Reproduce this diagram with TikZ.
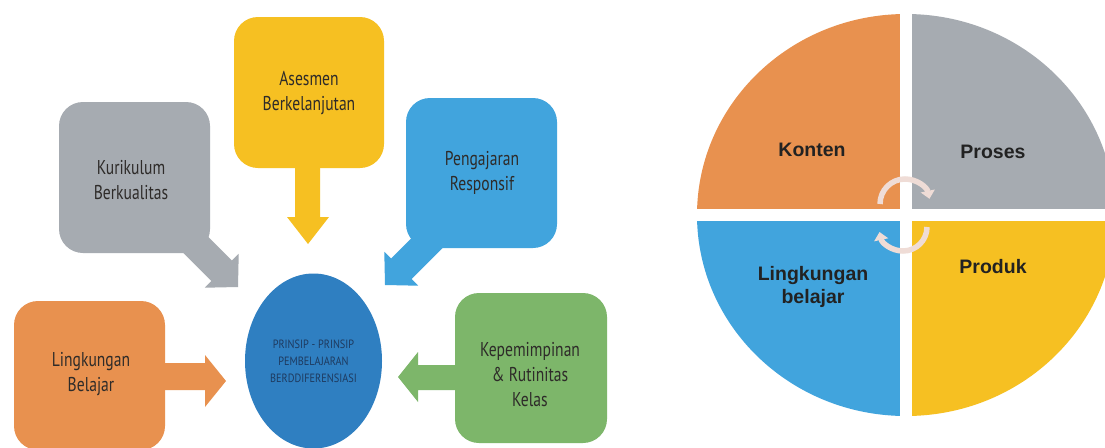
\documentclass[tikz,border=0pt]{standalone}
\usepackage{fontspec}
\setmainfont{Liberation Sans}
\newfontfamily\condfont[FakeStretch=0.78]{PT Sans}
\newfontfamily\condsmall[FakeStretch=0.86]{PT Sans}
\usetikzlibrary{shapes.geometric,arrows.meta}
\definecolor{cOrange}{HTML}{E8914F}
\definecolor{cGray}{HTML}{A6ABB1}
\definecolor{cYellow}{HTML}{F6C022}
\definecolor{cBlue}{HTML}{41A4DD}
\definecolor{cGreen}{HTML}{7DB66A}
\definecolor{cCenter}{HTML}{2F7FC1}
\definecolor{cTxt}{HTML}{2E2B29}
\definecolor{cNavy}{HTML}{1E3A5F}
\definecolor{cCycle}{HTML}{EFDCD6}
\definecolor{cDark}{HTML}{222222}
\tikzset{
  box/.style={rounded corners=24pt, inner sep=0pt},
  btxt/.style={font=\condfont\fontsize{20}{25}\selectfont, text=cTxt, align=center, inner sep=0pt},
  qtxt/.style={font=\bfseries\fontsize{19.5}{23}\selectfont, text=cDark, align=center, inner sep=0pt},
  cyc/.style={draw=cCycle, line width=5.5pt, -{Triangle[length=8pt,width=14pt]}},
}
\begin{document}
\begin{tikzpicture}[x=1pt,y=-1pt]
\useasboundingbox (0,0) rectangle (1105,447);
\fill[white] (0,0) rectangle (1105,447);

% ---------- left diagram ----------
% boxes
\fill[cYellow, box] (234,17) rectangle (384,168);
\fill[cGray, box] (59,102) rectangle (210,253);
\fill[cBlue, box] (406,98) rectangle (557,248);
\fill[cOrange, box] (14,301) rectangle (165,450);
\fill[cGreen, box] (455,293) rectangle (607,443);

% block arrows
\fill[cYellow] (295,150) -- (295,217) -- (287,217) -- (308,244) -- (329,217) -- (320,217) -- (320,150) -- cycle;
\fill[cGray] (175.42,203.92) -- (231.99,260.49) -- (238.71,253.77) -- (238,287) -- (204.77,287.71) -- (211.49,280.99) -- (154.92,224.42) -- cycle;
\fill[cBlue] (447.58,201.92) -- (391.01,258.49) -- (384.29,251.77) -- (385,285) -- (418.23,285.71) -- (411.51,278.99) -- (468.08,222.42) -- cycle;
\fill[cOrange] (150,363) -- (205,363) -- (205,355) -- (226,381) -- (205,407) -- (205,390) -- (150,390) -- cycle;
\fill[cGreen] (470,365) -- (418,365) -- (418,352) -- (398,377) -- (418,402) -- (418,390) -- (470,390) -- cycle;

% centre ellipse
\node[ellipse, fill=cCenter, minimum width=137pt, minimum height=175pt, inner sep=0pt,
      font=\condsmall\fontsize{12}{17}\selectfont, text=cNavy, align=center]
  (center) at (313.5,361) {PRINSIP - PRINSIP\\PEMBELAJARAN\\BERDDIFERENSIASI};

% box texts
\node[btxt] (tAsesmen) at (309,93.5) {Asesmen\\Berkelanjutan};
\node[btxt] (tKurikulum) at (131,180.5) {Kurikulum\\Berkualitas};
\node[btxt] (tPengajaran) at (482,172.5) {Pengajaran\\Responsif};
\node[btxt] (tLingkungan) at (91,374.5) {Lingkungan\\Belajar};
\node[btxt] (tKepemimpinan) at (530,375) {Kepemimpinan\\\&~Rutinitas\\Kelas};

% ---------- right diagram ----------
\begin{scope}
\clip (690,0) rectangle (1105,447);
\fill[cOrange] (906,215) -- (697,215) arc[start angle=180, end angle=90, x radius=209pt, y radius=201pt] -- cycle;
\fill[cGray] (906,215) -- (906,14) arc[start angle=90, end angle=0, x radius=209pt, y radius=201pt] -- cycle;
\fill[cBlue] (906,215) -- (697,215) arc[start angle=180, end angle=270, x radius=209pt, y radius=201pt] -- cycle;
\fill[cYellow] (906,215) -- (1115,215) arc[start angle=0, end angle=-90, x radius=209pt, y radius=201pt] -- cycle;
\fill[white] (900,0) rectangle (912,447);
\fill[white] (690,209) rectangle (1105,221);
\end{scope}

\node[qtxt] (konten) at (812,150) {Konten};
\node[qtxt] (proses) at (993,152) {Proses};
\node[qtxt] (lingk) at (813,287) {Lingkungan\\belajar};
\node[qtxt] (produk) at (993,267) {Produk};

% cycle arrows
\coordinate (c1) at (905,204);
\coordinate (c2) at (903,227);
\draw[cyc] (c1) ++(180:25pt) arc[start angle=180, end angle=12, radius=25pt];
\draw[cyc] (c2) ++(0:24pt) arc[start angle=0, end angle=-168, radius=24pt];
\end{tikzpicture}
\end{document}
